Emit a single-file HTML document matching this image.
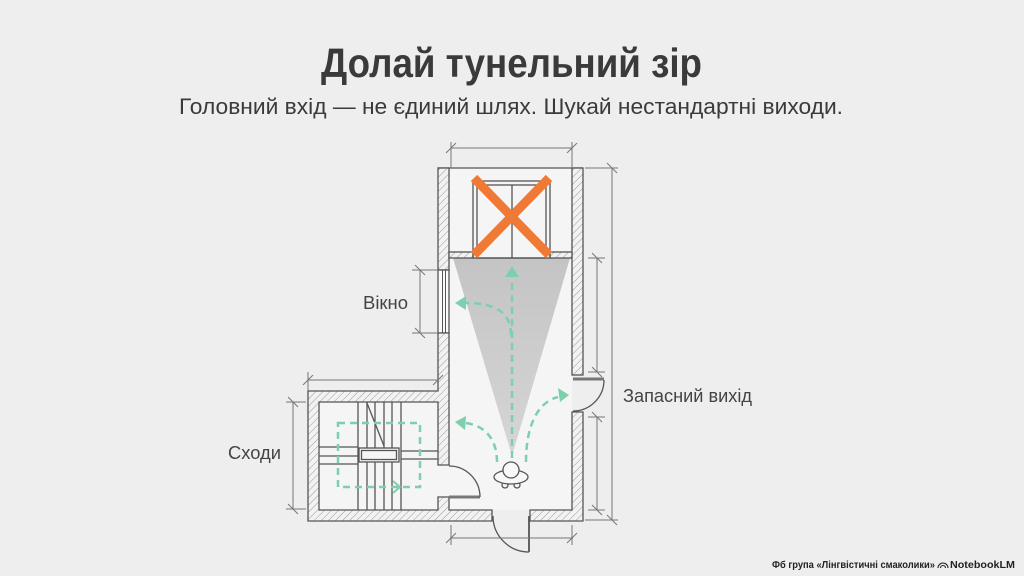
<!DOCTYPE html>
<html><head><meta charset="utf-8"><style>
html,body{margin:0;padding:0;background:#eeeeee;}
svg{display:block;}
</style></head><body>
<svg width="1024" height="576" viewBox="0 0 1024 576" xmlns="http://www.w3.org/2000/svg">
<defs>
<pattern id="h" width="5" height="5" patternUnits="userSpaceOnUse" patternTransform="rotate(45)">
<rect width="5" height="5" fill="#f2f2f2"/>
<line x1="0" y1="0" x2="0" y2="5" stroke="#9a9a9a" stroke-width="1"/>
</pattern>
<linearGradient id="cone" x1="0" y1="0" x2="0" y2="1">
<stop offset="0" stop-color="#c4c4c4"/>
<stop offset="1" stop-color="#d6d6d6"/>
</linearGradient>
</defs>
<rect width="1024" height="576" fill="#eeeeee"/>

<!-- Title -->
<text x="321" y="77" font-family="Liberation Sans, sans-serif" font-weight="bold" font-size="41" fill="#3a3a3a" textLength="381" lengthAdjust="spacingAndGlyphs">Долай тунельний зір</text>
<text x="179" y="114" font-family="Liberation Sans, sans-serif" font-size="22" fill="#3a3a3a" textLength="664" lengthAdjust="spacingAndGlyphs">Головний вхід — не єдиний шлях. Шукай нестандартні виходи.</text>

<!-- interiors -->
<rect x="449" y="168" width="123" height="342" fill="#f5f5f5"/>
<rect x="319" y="402" width="130" height="108" fill="#f5f5f5"/>

<!-- cone -->
<polygon points="453,258 570,258 512,456" fill="url(#cone)"/>

<g stroke="#555" stroke-width="1.3" fill="none">
<line x1="438" y1="168" x2="583" y2="168"/>
<rect x="572" y="168" width="11" height="207" fill="url(#h)"/>
<polygon points="572,412 583,412 583,521 530,521 530,510 572,510" fill="url(#h)"/>
<rect x="438" y="168" width="11" height="102" fill="url(#h)"/>
<rect x="438" y="270" width="11" height="63" fill="#fafafa"/>
<line x1="442.5" y1="270" x2="442.5" y2="333" stroke-width="1"/>
<line x1="445.5" y1="270" x2="445.5" y2="333" stroke-width="1"/>
<path d="M438,333 H449 V465 H438 V402 H319 V510 H438 V497 H449 V510 H492 V521 H308 V391 H438 Z" fill="url(#h)"/>
<rect x="449" y="252" width="24" height="6" fill="url(#h)"/>
<rect x="550" y="252" width="22" height="6" fill="url(#h)"/>
<rect x="473" y="181" width="77" height="77"/>
<rect x="477" y="185" width="69" height="73"/>
<line x1="512" y1="185" x2="512" y2="258"/>

<line x1="358" y1="402" x2="358" y2="510"/>
<line x1="401" y1="402" x2="401" y2="510"/>
<line x1="367" y1="402" x2="367" y2="448"/>
<line x1="375" y1="402" x2="375" y2="448"/>
<line x1="384" y1="402" x2="384" y2="448"/>
<line x1="392" y1="402" x2="392" y2="448"/>
<line x1="367" y1="462" x2="367" y2="510"/>
<line x1="375" y1="462" x2="375" y2="510"/>
<line x1="384" y1="462" x2="384" y2="510"/>
<line x1="392" y1="462" x2="392" y2="510"/>
<line x1="319" y1="447" x2="358" y2="447"/>
<line x1="319" y1="456" x2="358" y2="456"/>
<line x1="319" y1="464" x2="358" y2="464"/>
<line x1="401" y1="451" x2="438" y2="451"/>
<line x1="401" y1="459" x2="438" y2="459"/>
<rect x="359" y="448" width="40" height="14" fill="#f5f5f5"/>
<rect x="361.5" y="450.5" width="35" height="9"/>
<line x1="367" y1="403" x2="384" y2="446"/>

<line x1="449" y1="497" x2="480" y2="497" stroke="#777" stroke-width="3"/>
<path d="M480,497 A31,31 0 0 0 449,466"/>
<line x1="573" y1="379" x2="604" y2="379" stroke="#777" stroke-width="3"/>
<path d="M604,380 A31,31 0 0 1 573,411"/>
<line x1="529" y1="516" x2="529" y2="552" stroke-width="1.8"/>
<path d="M493,516 A36,36 0 0 0 529,552"/>
</g>

<g stroke="#777" stroke-width="1" fill="none">
<line x1="451" y1="148" x2="572" y2="148"/>
<line x1="451" y1="142" x2="451" y2="168"/>
<line x1="572" y1="142" x2="572" y2="168"/>
<line x1="446" y1="153" x2="456" y2="143"/>
<line x1="567" y1="153" x2="577" y2="143"/>
<line x1="612" y1="168" x2="612" y2="520"/>
<line x1="585" y1="168" x2="618" y2="168"/>
<line x1="585" y1="520" x2="618" y2="520"/>
<line x1="607" y1="163" x2="617" y2="173"/>
<line x1="607" y1="515" x2="617" y2="525"/>
<line x1="597" y1="258" x2="597" y2="372"/>
<line x1="597" y1="417" x2="597" y2="510"/>
<line x1="588" y1="258" x2="605" y2="258"/>
<line x1="588" y1="372" x2="605" y2="372"/>
<line x1="588" y1="417" x2="605" y2="417"/>
<line x1="588" y1="510" x2="605" y2="510"/>
<line x1="592" y1="253" x2="602" y2="263"/>
<line x1="592" y1="367" x2="602" y2="377"/>
<line x1="592" y1="412" x2="602" y2="422"/>
<line x1="592" y1="505" x2="602" y2="515"/>
<line x1="420" y1="270" x2="420" y2="333"/>
<line x1="412" y1="270" x2="437" y2="270"/>
<line x1="412" y1="333" x2="437" y2="333"/>
<line x1="415" y1="265" x2="425" y2="275"/>
<line x1="415" y1="328" x2="425" y2="338"/>
<line x1="308" y1="380" x2="438" y2="380"/>
<line x1="308" y1="372" x2="308" y2="391"/>
<line x1="303" y1="385" x2="313" y2="375"/>
<line x1="433" y1="385" x2="443" y2="375"/>
<line x1="293" y1="402" x2="293" y2="509"/>
<line x1="286" y1="402" x2="306" y2="402"/>
<line x1="286" y1="509" x2="306" y2="509"/>
<line x1="288" y1="397" x2="298" y2="407"/>
<line x1="288" y1="504" x2="298" y2="514"/>
<line x1="450" y1="538" x2="573" y2="538"/>
<line x1="451" y1="525" x2="451" y2="545"/>
<line x1="572" y1="525" x2="572" y2="545"/>
<line x1="446" y1="543" x2="456" y2="533"/>
<line x1="567" y1="543" x2="577" y2="533"/>
</g>

<g stroke="#f07a35" stroke-width="9" stroke-linecap="butt">
<line x1="474" y1="178" x2="549" y2="255"/>
<line x1="549" y1="178" x2="474" y2="255"/>
</g>

<g stroke="#7dcfae" stroke-width="2.5" fill="none" stroke-dasharray="7 5">
<path d="M512,458 V278"/>
<path d="M511,335 C511,312 495,303 466,303"/>
<path d="M497,462 C497,440 486,426 466,423"/>
<path d="M526,462 C526,425 538,402 558,397"/>
<rect x="338" y="423" width="82" height="64"/>
</g>
<g fill="#7dcfae">
<polygon points="512,266 505,277 519,277"/>
<polygon points="455,303 466,296 466,310"/>
<polygon points="455,422 466,416 465,430"/>
<polygon points="569,395 558,388 560,402"/>
</g>
<polyline points="393,481 400,487 393,493" stroke="#7dcfae" stroke-width="2" fill="none"/>

<g stroke="#555" stroke-width="1.3" fill="#f8f8f8">
<circle cx="505" cy="485" r="3"/>
<circle cx="517" cy="485" r="3"/>
<ellipse cx="511" cy="477" rx="17" ry="7"/>
<circle cx="511" cy="470" r="8"/>
</g>

<g font-family="Liberation Sans, sans-serif" font-size="18" fill="#444">
<text x="363" y="309" textLength="45" lengthAdjust="spacingAndGlyphs">Вікно</text>
<text x="228" y="459" textLength="53" lengthAdjust="spacingAndGlyphs">Сходи</text>
<text x="623" y="402" textLength="129" lengthAdjust="spacingAndGlyphs">Запасний вихід</text>
</g>

<text x="772" y="568" font-family="Liberation Sans, sans-serif" font-weight="bold" font-size="10" fill="#222" textLength="163" lengthAdjust="spacingAndGlyphs">Фб група «Лінгвістичні смаколики»</text>
<g stroke="#222" stroke-width="1.1" fill="none">
<path d="M938,568 a5,5 0 0 1 10,0"/>
<path d="M940.5,568 a2.5,2.5 0 0 1 5,0"/>
</g>
<text x="950" y="568" font-family="Liberation Sans, sans-serif" font-weight="bold" font-size="10" fill="#222" textLength="65" lengthAdjust="spacingAndGlyphs">NotebookLM</text>
</svg>
</body></html>
